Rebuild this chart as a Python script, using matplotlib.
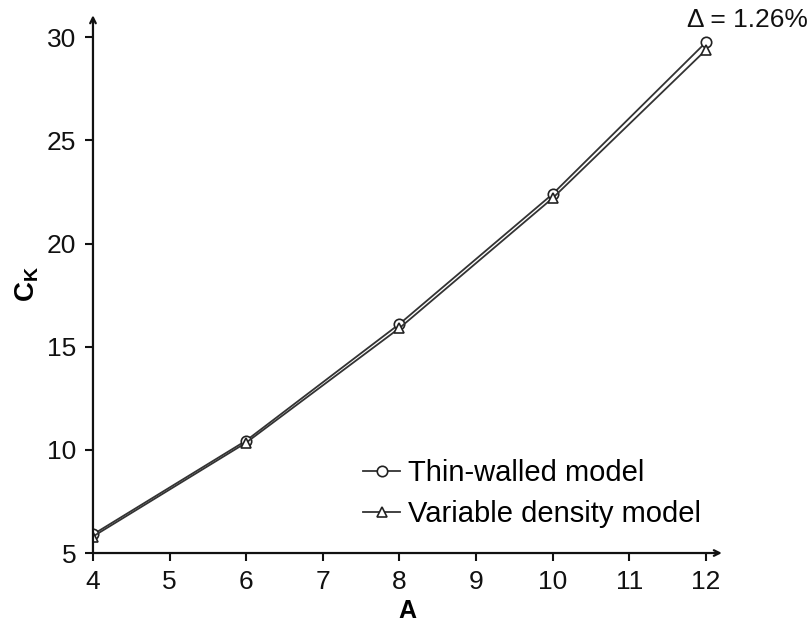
import matplotlib
matplotlib.use('Agg')
import matplotlib.pyplot as plt

plt.rcParams['font.family'] = ['Liberation Sans', 'DejaVu Sans']
plt.rcParams['mathtext.fontset'] = 'custom'
plt.rcParams['mathtext.bf'] = 'Liberation Sans:bold'
plt.rcParams['mathtext.rm'] = 'Liberation Sans'

A = [4, 6, 8, 10, 12]
ck_thin = [5.9, 10.45, 16.1, 22.4, 29.75]
ck_var = [5.8, 10.35, 15.9, 22.2, 29.38]
x_ticks = [4, 5, 6, 7, 8, 9, 10, 11, 12]
y_ticks = [5, 10, 15, 20, 25, 30]
delta_text = '\u0394 = 1.26%'

fig = plt.figure(figsize=(8.12, 6.29), dpi=100)
ax = fig.add_axes([0.1145, 0.1208, 0.7745, 0.855])

ax.plot(A, ck_thin, color='#333333', lw=1.3, marker='o', ms=7.5,
        mfc='white', mec='#222222', mew=1.2, label='Thin-walled model')
ax.plot(A, ck_var, color='#333333', lw=1.3, marker='^', ms=7.5,
        mfc='white', mec='#222222', mew=1.2, label='Variable density model')

ax.set_xlim(4, 12.21)
ax.set_ylim(5, 31.07)
ax.set_xticks(x_ticks)
ax.set_yticks(y_ticks)
ax.tick_params(labelsize=19, length=6, width=1.5, colors='#111111', pad=6)

for s in ax.spines.values():
    s.set_visible(False)

# axes drawn as arrows
ax.annotate('', xy=(1.0, 0), xytext=(0, 0), xycoords='axes fraction',
            arrowprops=dict(arrowstyle='->', lw=1.6, color='#111111',
                            shrinkA=0, shrinkB=0))
ax.annotate('', xy=(0, 1.0), xytext=(0, 0), xycoords='axes fraction',
            arrowprops=dict(arrowstyle='->', lw=1.6, color='#111111',
                            shrinkA=0, shrinkB=0))

ax.set_xlabel('A', fontsize=18, fontweight='bold', labelpad=4)
ax.set_ylabel(r'$\mathbf{C_K}$', fontsize=20, labelpad=4)

fig.text(808 / 812, 1 - 20 / 629, delta_text, fontsize=19, ha='right',
         va='center', color='#111111')

leg = ax.legend(loc='lower right', bbox_to_anchor=(0.985, 0.025), frameon=False,
                fontsize=21, handlelength=1.3, handletextpad=0.25,
                labelspacing=0.45, borderaxespad=0)

fig.savefig('out.png', dpi=100)
